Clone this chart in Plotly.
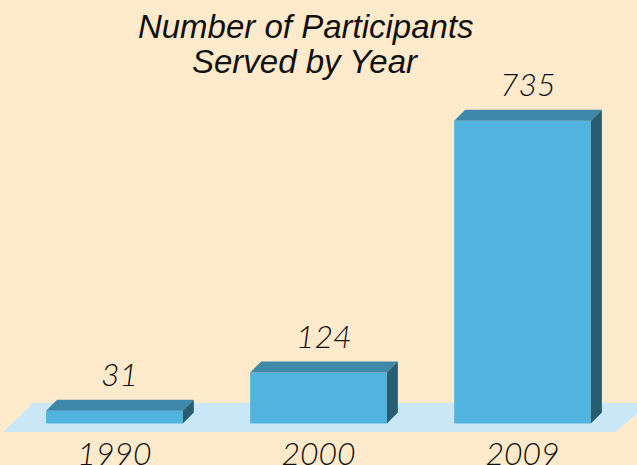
import plotly.graph_objects as go

# ---- data ----
years = ["1990", "2000", "2009"]
participants = [31, 124, 735]
title_lines = ["Number of Participants", "Served by Year"]

# ---- style ----
W, H = 637, 465
BG = "#FFEBCC"
FRONT = "#51B4DF"
TOP = "#3E89A9"
SIDE = "#285D71"
FLOOR = "#C9E7F6"
MB = 33
X_RANGE = [-0.561, 2.561]
Y_RANGE = [-20.6, 1028]
BAR_W = 0.67
DEPTH_PX = 11
NUM_FONT = dict(family="Lato", size=32, color="#111111", style="italic", weight=300)
TITLE_FONT = dict(family="Liberation Sans, Arial", size=33, color="#111111", style="italic")

plot_h = H - MB
px_x = W / (X_RANGE[1] - X_RANGE[0])
px_y = plot_h / (Y_RANGE[1] - Y_RANGE[0])
dx = DEPTH_PX / px_x
dy = DEPTH_PX / px_y

xs = list(range(len(years)))

fig = go.Figure()
fig.add_trace(go.Bar(
    x=xs, y=participants, width=BAR_W,
    marker=dict(color=FRONT, line=dict(width=0)),
    hoverinfo="skip",
))

shapes = []
# floor (decorative parallelogram), pixel offsets converted to data units
fb = Y_RANGE[0]
ft = Y_RANGE[0] + 29 / px_y
fl0 = X_RANGE[0] + 3 / px_x
fr0 = X_RANGE[0] + 615 / px_x
fl1 = X_RANGE[0] + 33 / px_x
fr1 = X_RANGE[0] + 650 / px_x
shapes.append(dict(
    type="path", xref="x", yref="y", layer="below",
    path=f"M {fl0},{fb} L {fr0},{fb} L {fr1},{ft} L {fl1},{ft} Z",
    fillcolor=FLOOR, line=dict(width=0),
))

annotations = []
for x, v in zip(xs, participants):
    L = x - BAR_W / 2
    R = x + BAR_W / 2
    shapes.append(dict(
        type="path", xref="x", yref="y",
        path=f"M {L},{v} L {R},{v} L {R+dx},{v+dy} L {L+dx},{v+dy} Z",
        fillcolor=TOP, line=dict(width=0),
    ))
    shapes.append(dict(
        type="path", xref="x", yref="y",
        path=f"M {R},0 L {R+dx},{dy} L {R+dx},{v+dy} L {R},{v} Z",
        fillcolor=SIDE, line=dict(width=0),
    ))
    annotations.append(dict(
        x=x, y=v, xref="x", yref="y", text=str(v), showarrow=False,
        xshift=5, yshift=37, yanchor="middle",
        font=NUM_FONT,
    ))

# second title line
annotations.append(dict(
    x=0.48, y=1 - 62 / plot_h, xref="paper", yref="paper",
    text=title_lines[1], showarrow=False,
    xanchor="center", yanchor="middle", font=TITLE_FONT,
))

fig.update_layout(
    width=W, height=H,
    margin=dict(l=0, r=0, t=0, b=MB, autoexpand=False),
    paper_bgcolor=BG, plot_bgcolor=BG,
    showlegend=False,
    title=dict(
        text=title_lines[0],
        x=0.48, xanchor="center", xref="paper",
        y=0.968, yanchor="top", yref="container",
        automargin=False,
        font=TITLE_FONT,
    ),
    xaxis=dict(
        range=X_RANGE, tickvals=xs, ticktext=years,
        showgrid=False, zeroline=False, showline=False, ticks="",
        automargin=False,
        tickfont=NUM_FONT,
        fixedrange=True,
    ),
    yaxis=dict(
        range=Y_RANGE, visible=False, showgrid=False, zeroline=False,
        automargin=False, fixedrange=True,
    ),
    shapes=shapes,
    annotations=annotations,
)

fig.write_html(
    "out.html",
    config={"displayModeBar": False},
    post_script="document.body.style.margin='0';",
)
